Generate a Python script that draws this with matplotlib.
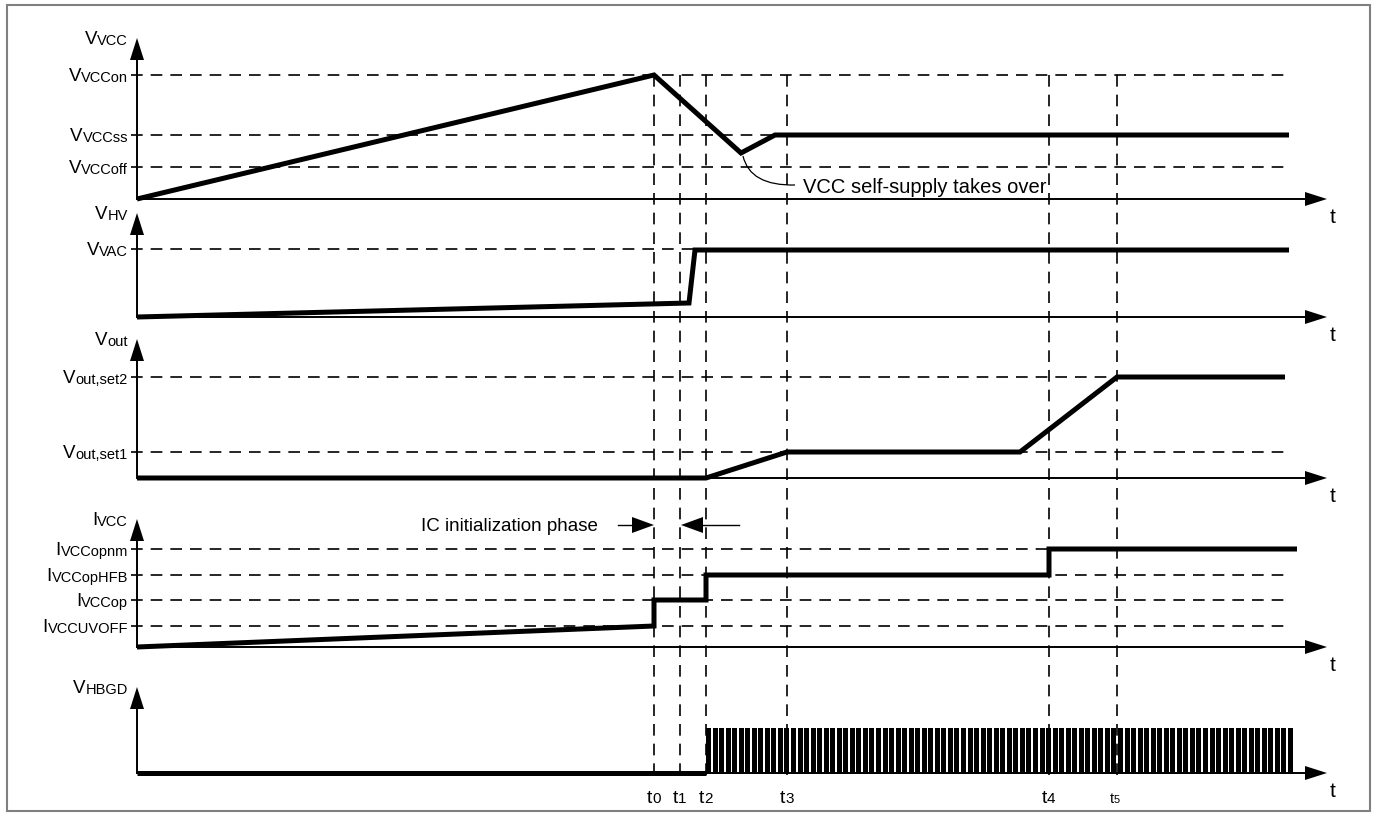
import numpy as np
import matplotlib
matplotlib.use("Agg")
import matplotlib.pyplot as plt
from matplotlib.patches import Polygon, Rectangle, PathPatch
from matplotlib.path import Path

plt.rcParams["font.family"] = ["Liberation Sans", "DejaVu Sans"]

# -----------------------------------------------------------------------------
# Data (time in px from the y-axis, levels in px above each panel's baseline)
# -----------------------------------------------------------------------------
t_marks = [517, 543, 569, 650, 912, 980]
t_mark_subs = ["0", "1", "2", "3", "4", "5"]

panel_base = [617, 499, 338, 169, 43]
panel_main = ["V", "V", "V", "I", "V"]
panel_sub = ["VCC", "HV", "out", "VCC", "HBGD"]
panel_tip = [161, 104, 139, 128, 86]

vcc_levels = [124, 64, 32]
vcc_level_subs = ["VCCon", "VCCss", "VCCoff"]
hv_levels = [68]
hv_level_subs = ["VAC"]
vout_levels = [101, 26]
vout_level_subs = ["out,set2", "out,set1"]
ivcc_levels = [98, 72, 47, 21]
ivcc_level_subs = ["VCCopnm", "VCCopHFB", "VCCop", "VCCUVOFF"]

vcc_t = [0, 517, 604, 638, 1152]
vcc_v = [0, 124, 46, 64, 64]
hv_t = [0, 552, 558, 1152]
hv_v = [0, 14, 67, 67]
vout_t = [0, 569, 650, 883, 980, 1148]
vout_v = [0, 0, 26, 26, 101, 101]
ivcc_t = [0, 517, 517, 569, 569, 912, 912, 1160]
ivcc_v = [0, 21, 47, 47, 72, 72, 98, 98]
hbgd_t = [0, 569]
hbgd_v = [0, 0]
pulse_start, pulse_end, n_pulses, pulse_high = 569, 1156, 90, 45

W, H = 1375, 816
X0 = 137
T_END = 1190          # time-axis arrow tip
DASH_END = 1153
WAVE_LW = 3.6
AX_LW = 1.4
DASH = dict(color="black", lw=1.2, linestyle=(0, (7.0, 4.8)), zorder=1)
BIG, SMALL = 13.5, 10.5
HALF_CAP = 6.7

fig = plt.figure(figsize=(13.75, 8.16), dpi=100)
ax = fig.add_axes([0, 0, 1, 1])
ax.set_xlim(-X0, W - X0)
ax.set_ylim(0, H)
ax.axis("off")


def head(tx, ty, direction, length=22, half=7):
    if direction == "up":
        pts = [(tx, ty), (tx - half, ty - length), (tx + half, ty - length)]
    elif direction == "right":
        pts = [(tx, ty), (tx - length, ty - half), (tx - length, ty + half)]
    else:
        pts = [(tx, ty), (tx + length, ty - half), (tx + length, ty + half)]
    ax.add_patch(Polygon(pts, closed=True, facecolor="black", lw=0, zorder=4))


def right_label(x, y, main, sub, big=BIG, small=SMALL):
    s = ax.text(x, y - HALF_CAP, sub, fontsize=small, ha="right", va="baseline")
    ax.annotate(main, xy=(0, 0), xycoords=s, fontsize=big, ha="right", va="bottom")


# frame
ax.add_patch(Rectangle((-130, 5), 1363, 806, fill=False, edgecolor="#808080", lw=1.5))

# vertical dashed time markers
for tm in t_marks:
    ax.plot([tm, tm], [741, 34], **DASH)

level_sets = [
    (vcc_levels, vcc_level_subs),
    (hv_levels, hv_level_subs),
    (vout_levels, vout_level_subs),
    (ivcc_levels, ivcc_level_subs),
    ([], []),
]

for i, base in enumerate(panel_base):
    # axes with arrows
    ax.plot([0, 0], [base, base + panel_tip[i] - 20], color="black", lw=AX_LW, zorder=2)
    head(0, base + panel_tip[i], "up")
    ax.plot([0, T_END - 20], [base, base], color="black", lw=AX_LW, zorder=2)
    head(T_END, base, "right")
    ax.text(1196, base - 24, "t", fontsize=15, ha="center", va="baseline")
    right_label(-9, base + panel_tip[i], panel_main[i], panel_sub[i])
    levels, subs = level_sets[i]
    for lv, sb in zip(levels, subs):
        ax.plot([-6, DASH_END], [base + lv, base + lv], **DASH)
        right_label(-9, base + lv, panel_main[i], sb)

waves = [(vcc_t, vcc_v), (hv_t, hv_v), (vout_t, vout_v), (ivcc_t, ivcc_v), (hbgd_t, hbgd_v)]
for (tt, vv), base in zip(waves, panel_base):
    ax.plot(tt, np.array(vv) + base, color="black", lw=WAVE_LW,
            solid_joinstyle="miter", solid_capstyle="butt", zorder=3)

# gate drive pulses
pw = 5.0
lefts = np.linspace(pulse_start, pulse_end - pw, n_pulses)
ax.bar(lefts, pulse_high + 1, width=pw, bottom=panel_base[4] - 1, align="edge",
       color="black", lw=0, zorder=3)

# t labels
for tm, sb in zip(t_marks, t_mark_subs):
    big, small, dx = (10.5, 8, 3) if sb == "5" else (14, 11, 2)
    ax.text(tm - dx, 13, "t", fontsize=big, ha="right", va="baseline")
    ax.text(tm - dx, 13, sb, fontsize=small, ha="left", va="baseline")

# VCC self-supply annotation
curve = Path([(606, 660), (613, 630), (658, 631)], [Path.MOVETO, Path.CURVE3, Path.CURVE3])
ax.add_patch(PathPatch(curve, fill=False, edgecolor="black", lw=0.9, zorder=3))
ax.text(666, 623, "VCC self-supply takes over", fontsize=14.5, ha="left", va="baseline")

# IC initialization phase
ax.text(461, 285, "IC initialization phase", fontsize=BIG, ha="right", va="baseline")
ax.plot([481, 497], [291, 291], color="black", lw=1.0, zorder=3)
head(517, 291, "right", length=22, half=8)
ax.plot([565, 602], [291, 291], color="black", lw=1.0, zorder=3)
head(544, 291, "left", length=22, half=8)

fig.savefig("out.png", dpi=100)
